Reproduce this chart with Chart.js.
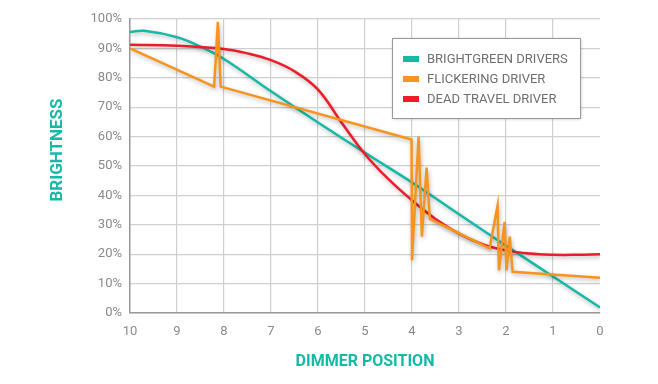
<!DOCTYPE html>
<html>
<head>
<meta charset="utf-8">
<script src="https://cdn.jsdelivr.net/npm/chart.js@4"></script>
<style>
  html, body { margin: 0; padding: 0; background: #fff; }
</style>
</head>
<body>
<canvas id="chart" width="658" height="384"></canvas>
<script>
// les valeurs (position du variateur -> luminosité en %)
const seriesLabels = ['BRIGHTGREEN DRIVERS', 'FLICKERING DRIVER', 'DEAD TRAVEL DRIVER']
const seriesColors = ['#16b9a6', '#f7941d', '#ec1c2a']

const greenX = [10, 9.7, 9, 8.5, 8, 7, 6, 5, 4, 3, 2, 1, 0]
const greenY = [95.6, 96, 93.8, 90.6, 86.4, 75.4, 64.8, 54.5, 44.4, 33.6, 22.9, 12.4, 1.9]

const flickerX = [10, 8.21, 8.13, 8.07, 4.01, 4.0, 3.86, 3.79, 3.69, 3.62, 2.35, 2.18, 2.15, 2.03, 1.99, 1.92, 1.86, 0]
const flickerY = [90, 77, 99, 77, 59, 18, 60, 26, 49.5, 32, 22, 36.5, 14.5, 31, 14.5, 26, 14, 12]

const deadX = [10, 9, 8, 7.5, 7, 6.5, 6, 5.5, 5, 4.5, 4, 3.5, 3, 2.5, 2, 1.5, 1, 0.5, 0]
const deadY = [91.2, 90.9, 89.8, 88.3, 86, 82.2, 76, 64.8, 54, 45.5, 38.3, 32, 27, 23.4, 21.3, 20.2, 19.8, 19.8, 20]

const xTitle = 'DIMMER POSITION'
const yTitle = 'BRIGHTNESS'

function toPoints(xs, ys) {
  return xs.map(function (x, i) { return { x: x, y: ys[i] } })
}

// ombre douce sous les courbes
const shadowPlugin = {
  id: 'shadow',
  beforeDatasetsDraw: function (chart) {
    const ctx = chart.ctx
    ctx.save()
    ctx.shadowColor = 'rgba(0,0,0,0.28)'
    ctx.shadowBlur = 4
    ctx.shadowOffsetX = 1
    ctx.shadowOffsetY = 2
  },
  afterDatasetsDraw: function (chart) {
    chart.ctx.restore()
  }
}

// légende encadrée dans la zone du graphique + titres des axes
const decorPlugin = {
  id: 'decor',
  afterDraw: function (chart) {
    const ctx = chart.ctx
    ctx.save()
    // cadre
    ctx.shadowColor = 'rgba(0,0,0,0.25)'
    ctx.shadowBlur = 3
    ctx.shadowOffsetX = 1
    ctx.shadowOffsetY = 1
    ctx.fillStyle = '#fff'
    ctx.fillRect(392, 38, 188, 80)
    ctx.shadowColor = 'transparent'
    ctx.strokeStyle = '#999'
    ctx.lineWidth = 1
    ctx.strokeRect(392.5, 38.5, 188, 80)
    ctx.font = '13px Roboto'
    ctx.textBaseline = 'middle'
    ctx.textAlign = 'left'
    chart.data.datasets.forEach(function (ds, i) {
      const y = 59 + i * 20
      ctx.fillStyle = ds.borderColor
      ctx.fillRect(403, y - 3, 16, 6)
      ctx.fillStyle = '#6f6f6f'
      ctx.fillText(ds.label, 427, y + 0.5)
    })
    // titres
    ctx.fillStyle = '#16b9a6'
    ctx.font = 'bold 16px Roboto'
    ctx.textAlign = 'center'
    const area = chart.chartArea
    ctx.fillText(xTitle, (area.left + area.right) / 2, 362)
    ctx.translate(58, 150)
    ctx.rotate(-Math.PI / 2)
    ctx.font = 'bold 17px Roboto'
    ctx.fillText(yTitle, 0, 0)
    ctx.restore()
  }
}

new Chart(document.getElementById('chart'), {
  type: 'line',
  data: {
    datasets: [
      {
        label: seriesLabels[0],
        data: toPoints(greenX, greenY),
        borderColor: seriesColors[0],
        backgroundColor: seriesColors[0],
        tension: 0.4,
        order: 3
      },
      {
        label: seriesLabels[1],
        data: toPoints(flickerX, flickerY),
        borderColor: seriesColors[1],
        backgroundColor: seriesColors[1],
        tension: 0,
        borderJoinStyle: 'miter',
        order: 1
      },
      {
        label: seriesLabels[2],
        data: toPoints(deadX, deadY),
        borderColor: seriesColors[2],
        backgroundColor: seriesColors[2],
        tension: 0.4,
        order: 2
      }
    ]
  },
  options: {
    responsive: false,
    animation: false,
    layout: { padding: { top: 19, right: 58, left: 0, bottom: 0 } },
    elements: {
      point: { radius: 0 },
      line: { borderWidth: 2.5, fill: false }
    },
    plugins: {
      legend: { display: false },
      tooltip: { enabled: false }
    },
    scales: {
      x: {
        type: 'linear',
        min: 0,
        max: 10,
        reverse: true,
        afterFit: function (scale) { scale.height = 71 },
        ticks: {
          stepSize: 1,
          padding: 11,
          color: '#8a8a8a',
          font: { family: 'Roboto', size: 13 }
        },
        grid: {
          drawTicks: false,
          color: function (c) { return c.tick && c.tick.value === 0 ? 'rgba(0,0,0,0)' : '#cfcfcf' },
          lineWidth: 1.2
        },
        border: { color: '#9a9a9a', width: 1.5 }
      },
      y: {
        min: 0,
        max: 100,
        afterFit: function (scale) { scale.width = 130 },
        ticks: {
          stepSize: 10,
          padding: 8,
          color: '#8a8a8a',
          font: { family: 'Roboto', size: 13 },
          callback: function (v) { return v + '%' }
        },
        grid: { drawTicks: false, color: '#cfcfcf', lineWidth: 1.2 },
        border: { color: '#9a9a9a', width: 1.5 }
      }
    }
  },
  plugins: [shadowPlugin, decorPlugin]
})
</script>
</body>
</html>
